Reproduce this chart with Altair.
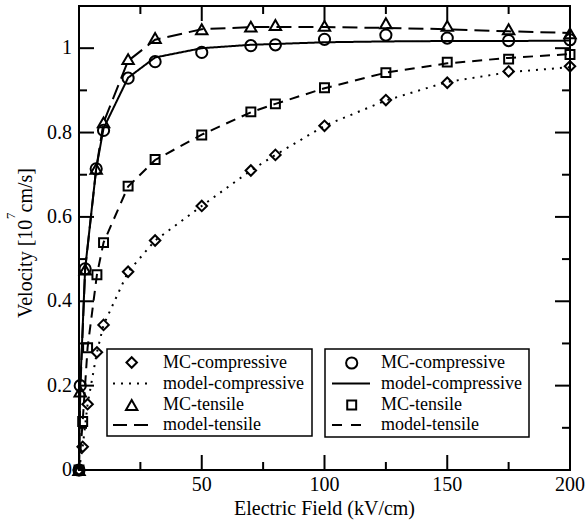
import altair as alt
import pandas as pd

# Electric field grid (kV/cm)
field_a = [0, 0.5, 2.5, 7, 10, 20, 31, 50, 70, 80, 100, 125, 150, 175, 200]
field_b = [0, 1.5, 3.5, 7.3, 10, 20, 31, 50, 70, 80, 100, 125, 150, 175, 200]

# Drift velocity (10^7 cm/s)
mc_comp_circle = [0, 0.200, 0.477, 0.714, 0.805, 0.929, 0.968, 0.990, 1.006, 1.008, 1.021, 1.031, 1.024, 1.018, 1.020]
model_comp_solid = [0, 0.200, 0.477, 0.714, 0.810, 0.930, 0.978, 1.000, 1.008, 1.010, 1.014, 1.016, 1.017, 1.017, 1.018]
mc_tens_triangle = [0, 0.186, 0.475, 0.714, 0.824, 0.974, 1.024, 1.045, 1.051, 1.055, 1.053, 1.059, 1.053, 1.045, 1.035]
model_tens_longdash = [0, 0.186, 0.475, 0.714, 0.824, 0.970, 1.020, 1.045, 1.050, 1.050, 1.050, 1.048, 1.045, 1.040, 1.036]
mc_tens_square = [0, 0.115, 0.290, 0.463, 0.539, 0.673, 0.736, 0.794, 0.849, 0.868, 0.906, 0.942, 0.967, 0.974, 0.985]
model_tens_shortdash = [0, 0.115, 0.290, 0.463, 0.539, 0.672, 0.735, 0.795, 0.848, 0.868, 0.905, 0.942, 0.964, 0.977, 0.986]
mc_comp_diamond = [0, 0.055, 0.156, 0.279, 0.344, 0.470, 0.544, 0.626, 0.710, 0.747, 0.816, 0.877, 0.918, 0.945, 0.957]
model_comp_dotted = [0, 0.055, 0.156, 0.279, 0.344, 0.470, 0.544, 0.626, 0.710, 0.747, 0.816, 0.876, 0.920, 0.943, 0.955]

legend_labels = ["MC-compressive", "model-compressive", "MC-tensile", "model-tensile"]

x_labels = [50, 100, 150, 200]
x_label_text = ["50", "100", "150", "200"]
y_labels = [0, 0.2, 0.4, 0.6, 0.8, 1.0]
y_label_text = ["0", "0.2", "0.4", "0.6", "0.8", "1"]
x_title = "Electric Field (kV/cm)"
# y title in three pieces: base text, superscript exponent, unit
y_title_parts = ["Velocity [10", "7", " cm/s]"]

x_major = [50, 100, 150]
x_minor = [25, 75, 125, 175]
y_major = [0.2, 0.4, 0.6, 0.8, 1.0]
y_minor = [0.1, 0.3, 0.5, 0.7, 0.9]

W, H = 491, 464
FONT = "Liberation Serif"
XS = alt.Scale(domain=[0, 200], nice=False, zero=False)
YS = alt.Scale(domain=[0, 1.1], nice=False, zero=False)


def frame(x, y):
    return pd.DataFrame({"x": x, "y": y})


def X(field):
    return alt.X(field, scale=XS, axis=None)


def Y(field):
    return alt.Y(field, scale=YS, axis=None)


def line(x, y, dash):
    return alt.Chart(frame(x, y)).mark_line(
        color="black", strokeWidth=2, strokeDash=dash
    ).encode(x=X("x:Q"), y=Y("y:Q"))


def points(x, y, shape, size):
    return alt.Chart(frame(x, y)).mark_point(
        shape=shape, size=size, filled=False, color="black", strokeWidth=2, opacity=1
    ).encode(x=X("x:Q"), y=Y("y:Q"))


def xticks(vals, length):
    df = pd.DataFrame({"v": vals})
    bottom = alt.Chart(df).mark_rule(color="black", strokeWidth=2).encode(
        x=X("v:Q"), y=alt.value(H), y2=alt.value(H - length)
    )
    top = alt.Chart(df).mark_rule(color="black", strokeWidth=2).encode(
        x=X("v:Q"), y=alt.value(0), y2=alt.value(length)
    )
    return bottom + top


def yticks(vals, length):
    df = pd.DataFrame({"v": vals})
    left = alt.Chart(df).mark_rule(color="black", strokeWidth=2).encode(
        y=Y("v:Q"), x=alt.value(0), x2=alt.value(length)
    )
    right = alt.Chart(df).mark_rule(color="black", strokeWidth=2).encode(
        y=Y("v:Q"), x=alt.value(W), x2=alt.value(W - length)
    )
    return left + right


ticks = xticks(x_major, 15) + xticks(x_minor, 8) + yticks(y_major, 15) + yticks(y_minor, 8)

# Axis labels and titles drawn as text marks placed through the same scales
x_tick_labels = alt.Chart(pd.DataFrame({"v": x_labels, "t": x_label_text})).mark_text(
    font=FONT, fontSize=20, align="center", baseline="alphabetic", color="black"
).encode(x=X("v:Q"), y=alt.value(H + 20.7), text="t:N")

y_tick_labels = alt.Chart(pd.DataFrame({"v": y_labels, "t": y_label_text})).mark_text(
    font=FONT, fontSize=20, align="right", baseline="middle", color="black"
).encode(y=Y("v:Q"), x=alt.value(-7), text="t:N")

anchor = alt.Chart(frame([0], [0]))
x_title_mark = anchor.mark_text(
    text=x_title, font=FONT, fontSize=20, align="center", baseline="alphabetic", color="black"
).encode(x=alt.value(W / 2), y=alt.value(H + 45))

y_title_base = anchor.mark_text(
    text=y_title_parts[0], font=FONT, fontSize=20, align="left", baseline="alphabetic",
    angle=270, color="black"
).encode(x=alt.value(-47), y=alt.value(312))
y_title_exp = anchor.mark_text(
    text=y_title_parts[1], font=FONT, fontSize=13, align="left", baseline="alphabetic",
    angle=270, color="black"
).encode(x=alt.value(-64), y=alt.value(213))
y_title_unit = anchor.mark_text(
    text=y_title_parts[2], font=FONT, fontSize=20, align="left", baseline="alphabetic",
    angle=270, color="black"
).encode(x=alt.value(-47), y=alt.value(206.5))

axes_text = x_tick_labels + y_tick_labels + x_title_mark + y_title_base + y_title_exp + y_title_unit

curves = (
    line(field_b, model_comp_dotted, [2, 6])
    + line(field_b, model_tens_shortdash, [10, 7])
    + line(field_a, model_tens_longdash, [15, 7])
    + line(field_a, model_comp_solid, [1, 0])
    + points(field_b, mc_comp_diamond, "diamond", 110)
    + points(field_b, mc_tens_square, "square", 80)
    + points(field_a, mc_tens_triangle, "triangle-up", 130)
    + points(field_a, mc_comp_circle, "circle", 125)
)


def legend_box(x0, x1, y0, y1, sym_x, line_x0, line_x1, text_x, rows, symbols, dashes):
    layers = [
        anchor.mark_rect(fill="white", stroke="black", strokeWidth=1.5).encode(
            x=alt.value(x0), x2=alt.value(x1), y=alt.value(y0), y2=alt.value(y1)
        )
    ]
    for row, (shape, size) in zip([rows[0], rows[2]], symbols):
        layers.append(
            anchor.mark_point(
                shape=shape, size=size, filled=False, color="black", strokeWidth=2, opacity=1
            ).encode(x=alt.value(sym_x), y=alt.value(row))
        )
    for row, dash in zip([rows[1], rows[3]], dashes):
        layers.append(
            anchor.mark_rule(color="black", strokeWidth=2, strokeDash=dash).encode(
                x=alt.value(line_x0), x2=alt.value(line_x1), y=alt.value(row)
            )
        )
    for row, label in zip(rows, legend_labels):
        layers.append(
            anchor.mark_text(
                text=label, font=FONT, fontSize=18, align="left", baseline="middle", color="black"
            ).encode(x=alt.value(text_x), y=alt.value(row))
        )
    return alt.layer(*layers)


legend_left = legend_box(
    28, 233, 343, 430, 52.7, 34, 74, 84, [356.5, 377.5, 399, 419],
    [("diamond", 110), ("triangle-up", 130)], [[2, 6], [14, 7]],
)
legend_right = legend_box(
    246, 450, 343, 431, 272.7, 253, 291, 302, [357, 377.5, 399, 419],
    [("circle", 125), ("square", 80)], [[1, 0], [10, 9]],
)

chart = (
    alt.layer(curves, ticks, axes_text, legend_left, legend_right)
    .properties(
        width=W, height=H,
        autosize=alt.AutoSizeParams(type="none"),
        padding={"left": 79, "top": 6, "right": 17, "bottom": 52},
        background="white",
    )
    .configure_view(stroke="black", strokeWidth=2)
)

chart.save("out.html", embed_options={"renderer": "svg", "actions": False})
